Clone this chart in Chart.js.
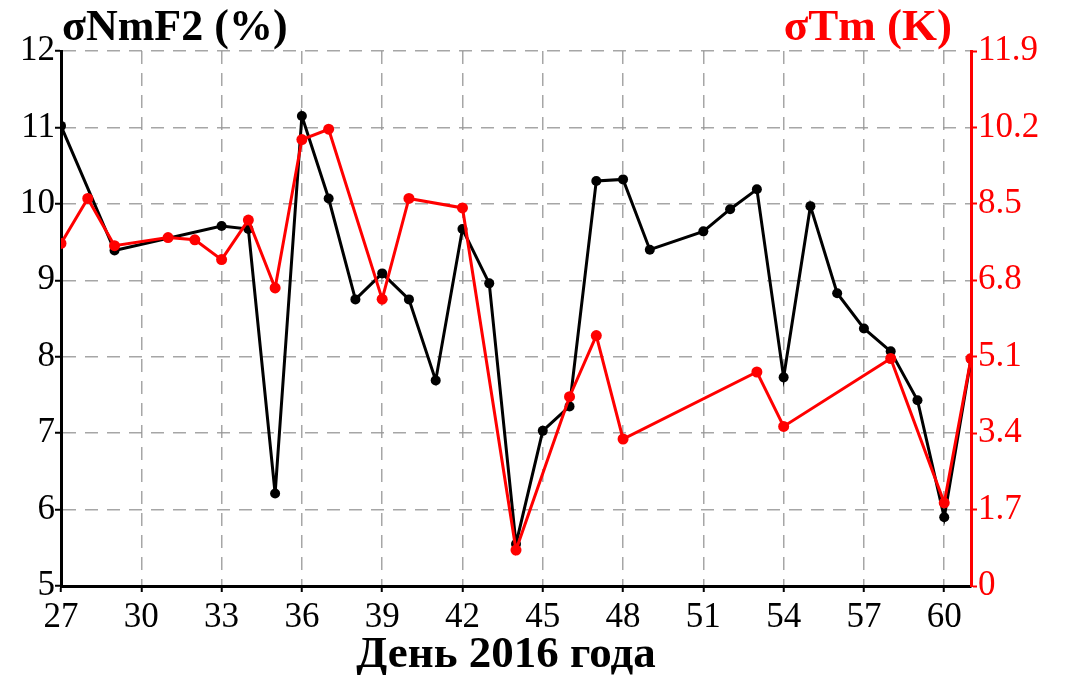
<!DOCTYPE html>
<html>
<head>
<meta charset="utf-8">
<script src="https://cdn.jsdelivr.net/npm/chart.js@4.4.1/dist/chart.umd.min.js"></script>
<style>
html,body{margin:0;padding:0;background:#fff;}
#wrap{width:1068px;height:675px;position:relative;}
</style>
</head>
<body>
<div id="wrap"><canvas id="c" width="1068" height="675"></canvas></div>
<script>
// ---- data ----
const nmDays   = [27,29,33,34,35,36,37,38,39,40,41,42,43,44,45,46,47,48,49,51,52,53,54,55,56,57,58,59,60,61];
const nmValues = [11.02,9.39,9.71,9.67,6.21,11.15,10.07,8.75,9.09,8.75,7.69,9.67,8.96,5.55,7.03,7.35,10.30,10.32,9.40,9.64,9.93,10.19,7.73,9.97,8.83,8.37,8.07,7.43,5.90,7.97];
const tmDays   = [27,28,29,31,32,33,34,35,36,37,39,40,42,44,46,47,48,53,54,58,60,61];
const tmValues = [7.62,8.62,7.57,7.75,7.70,7.26,8.14,6.63,9.93,10.16,6.38,8.62,8.41,0.80,4.21,5.57,3.27,4.76,3.55,5.06,1.85,5.06];
const xTicks   = [27,30,33,36,39,42,45,48,51,54,57,60];
const leftTicks  = [5,6,7,8,9,10,11,12];
const rightTicks = [0,1.7,3.4,5.1,6.8,8.5,10.2,11.9];
const rightLabels = ['0','1.7','3.4','5.1','6.8','8.5','10.2','11.9'];
const leftTitle = 'σNmF2 (%)';
const rightTitle = 'σTm (K)';
const xTitle = 'День 2016 года';

const FONT = '"Liberation Serif", "Times New Roman", serif';
const gridColor = 'rgba(150,150,150,0.85)';

const titlesPlugin = {
  id: 'titles',
  afterDraw(chart) {
    const ctx = chart.ctx;
    const a = chart.chartArea;
    ctx.save();
    ctx.font = 'bold 44px ' + FONT;
    ctx.textBaseline = 'alphabetic';
    ctx.fillStyle = '#000';
    ctx.textAlign = 'left';
    ctx.fillText(leftTitle, a.left + 1, 40);
    ctx.fillStyle = '#ff0000';
    ctx.font = 'bold 45px ' + FONT;
    ctx.textAlign = 'right';
    ctx.fillText(rightTitle, a.right - 19, 40);
    ctx.fillStyle = '#000';
    ctx.textAlign = 'center';
    ctx.font = 'bold 45px ' + FONT;
    ctx.fillText(xTitle, 506, 667);
    ctx.restore();
  }
};

new Chart(document.getElementById('c'), {
  type: 'line',
  data: {
    datasets: [
      {
        label: rightTitle,
        data: tmDays.map((d,i)=>({x:d,y:tmValues[i]})),
        yAxisID: 'yR',
        borderColor: '#ff0000',
        backgroundColor: '#ff0000',
        borderWidth: 3,
        pointRadius: 5.5,
        pointBorderWidth: 0,
        tension: 0
      },
      {
        label: leftTitle,
        data: nmDays.map((d,i)=>({x:d,y:nmValues[i]})),
        yAxisID: 'yL',
        borderColor: '#000000',
        backgroundColor: '#000000',
        borderWidth: 3,
        pointRadius: 5,
        pointBorderWidth: 0,
        tension: 0
      }
    ]
  },
  options: {
    responsive: false,
    animation: false,
    layout: { padding: { top: 51, left: 0, right: 0, bottom: 0 } },
    plugins: { legend: { display: false }, tooltip: { enabled: false }, title: { display: false } },
    scales: {
      x: {
        type: 'linear',
        min: 27, max: 61,
        afterBuildTicks: (s) => { s.ticks = xTicks.map(v => ({ value: v })); },
        afterFit: (s) => { s.height = 89; },
        grid: { color: gridColor, lineWidth: 1.5, drawTicks: true, tickLength: 6, tickColor: '#000', tickWidth: 2 },
        border: { display: true, color: '#000', width: 3, dash: [13, 9] },
        ticks: { color: '#000', font: { family: FONT, size: 35 }, padding: 5, maxRotation: 0, autoSkip: false }
      },
      yL: {
        type: 'linear',
        position: 'left',
        min: 5, max: 12,
        afterBuildTicks: (s) => { s.ticks = leftTicks.map(v => ({ value: v })); },
        afterFit: (s) => { s.width = 61; },
        grid: { color: gridColor, lineWidth: 1.5, drawTicks: true, tickLength: 6, tickColor: '#000', tickWidth: 2 },
        border: { display: true, color: '#000', width: 3, dash: [13, 9] },
        ticks: { color: '#000', font: { family: FONT, size: 35 }, padding: 0, autoSkip: false }
      },
      yR: {
        type: 'linear',
        position: 'right',
        min: 0, max: 11.9,
        afterBuildTicks: (s) => { s.ticks = rightTicks.map(v => ({ value: v })); },
        afterFit: (s) => { s.width = 97; },
        grid: { drawOnChartArea: false, drawTicks: true, tickLength: 6, tickColor: '#ff0000', tickWidth: 2 },
        border: { display: true, color: '#ff0000', width: 3 },
        ticks: { color: '#ff0000', font: { family: FONT, size: 35 }, padding: 1, autoSkip: false,
          callback: (v, i) => rightLabels[i] }
      }
    }
  },
  plugins: [titlesPlugin]
});
</script>
</body>
</html>
